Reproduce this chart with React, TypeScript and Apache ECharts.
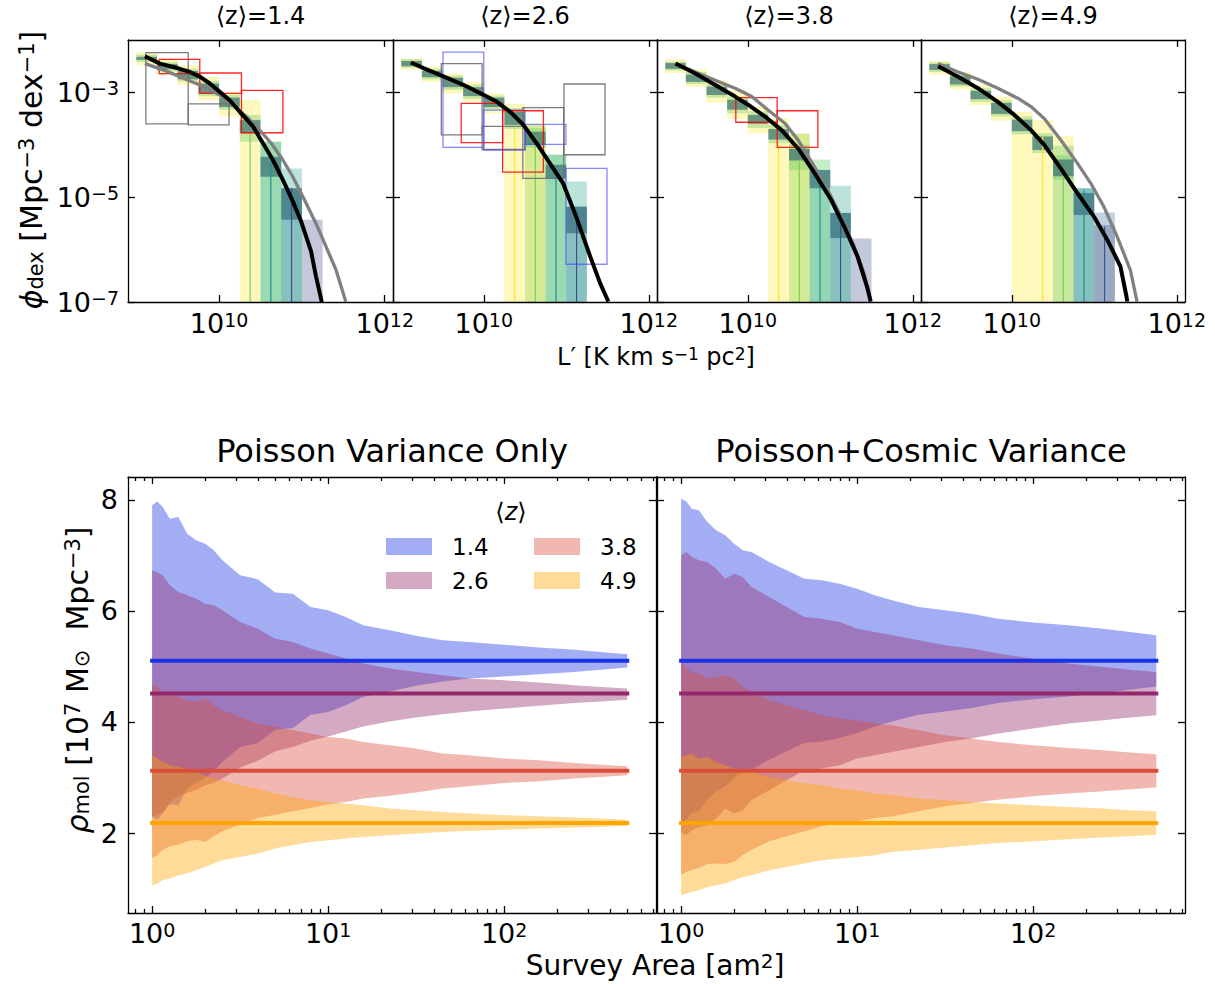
import React, { useEffect, useRef } from 'react';
import * as echarts from 'echarts';

const FONT = 'DejaVu Sans';

// ================= TOP ROW (all values are log10) =================
const TOP_TITLES = ['⟨z⟩=1.4', '⟨z⟩=2.6', '⟨z⟩=3.8', '⟨z⟩=4.9'];
const TOP_X_RANGE = [8.9, 12.1];
const TOP_Y_RANGE = [-7, -2];
const TOP_X_TICKS = [10, 12];
const TOP_Y_TICKS = [-3, -5, -7];

// boxes: [logL lo, logL hi, logPhi lo, logPhi hi, colour index]
const P1_BOXES = [
  [9.0, 9.25, -2.48, -2.23, 0], [9.0, 9.25, -2.42, -2.28, 1], [9.0, 9.25, -2.38, -2.32, 6],
  [9.25, 9.5, -2.67, -2.35, 0], [9.25, 9.5, -2.6, -2.42, 1], [9.25, 9.5, -2.56, -2.46, 6],
  [9.5, 9.75, -2.86, -2.48, 0], [9.5, 9.75, -2.79, -2.55, 1], [9.5, 9.75, -2.75, -2.59, 6],
  [9.75, 10, -3.15, -2.7, 0], [9.75, 10, -3.07, -2.78, 1], [9.75, 10, -3.02, -2.83, 6],
  [10, 10.25, -3.46, -2.99, 0], [10, 10.25, -3.33, -3.05, 1], [10, 10.25, -3.28, -3.1, 6],
  [10.25, 10.5, -7, -3.15, 0], [10.25, 10.5, -3.94, -3.43, 1], [10.25, 10.5, -3.78, -3.53, 6],
  [10.5, 10.75, -7, -3.94, 2], [10.5, 10.75, -7, -3.94, 1], [10.5, 10.75, -4.61, -4.23, 6],
  [10.75, 11, -7, -4.45, 2], [10.75, 11, -7, -4.83, 3], [10.75, 11, -5.43, -4.83, 6],
  [11, 11.25, -7, -5.43, 5],
];
const P2_BOXES = [
  [9.0, 9.25, -2.57, -2.35, 0], [9.0, 9.25, -2.53, -2.37, 1], [9.0, 9.25, -2.5, -2.4, 6],
  [9.25, 9.5, -2.8, -2.51, 0], [9.25, 9.5, -2.75, -2.55, 1], [9.25, 9.5, -2.71, -2.59, 6],
  [9.5, 9.75, -3.02, -2.64, 0], [9.5, 9.75, -2.95, -2.68, 1], [9.5, 9.75, -2.9, -2.72, 6],
  [9.75, 10, -3.18, -2.8, 0], [9.75, 10, -3.12, -2.85, 1], [9.75, 10, -3.07, -2.9, 6],
  [10, 10.25, -3.4, -3.02, 0], [10, 10.25, -3.33, -3.06, 1], [10, 10.25, -3.28, -3.1, 6],
  [10.25, 10.5, -7, -3.22, 0], [10.25, 10.5, -3.7, -3.3, 1], [10.25, 10.5, -3.62, -3.37, 6],
  [10.5, 10.75, -7, -3.62, 1], [10.5, 10.75, -7, -3.62, 0], [10.5, 10.75, -4.05, -3.68, 1], [10.5, 10.75, -4.0, -3.75, 6],
  [10.75, 11, -7, -4.19, 2], [10.75, 11, -7, -4.19, 1], [10.75, 11, -4.64, -4.38, 6],
  [11, 11.25, -7, -4.7, 2], [11, 11.25, -7, -5.18, 3], [11, 11.25, -5.69, -5.18, 6],
];
const P3_BOXES = [
  [9.0, 9.25, -2.63, -2.37, 0], [9.0, 9.25, -2.58, -2.41, 1], [9.0, 9.25, -2.55, -2.44, 6],
  [9.25, 9.5, -2.89, -2.56, 0], [9.25, 9.5, -2.84, -2.61, 1], [9.25, 9.5, -2.8, -2.66, 6],
  [9.5, 9.75, -3.2, -2.77, 0], [9.5, 9.75, -3.1, -2.84, 1], [9.5, 9.75, -3.05, -2.89, 6],
  [9.75, 10, -3.51, -2.96, 0], [9.75, 10, -3.4, -3.08, 1], [9.75, 10, -3.33, -3.14, 6],
  [10, 10.25, -3.78, -3.27, 0], [10, 10.25, -3.68, -3.36, 1], [10, 10.25, -3.6, -3.43, 6],
  [10.25, 10.5, -7, -3.5, 0], [10.25, 10.5, -3.97, -3.62, 1], [10.25, 10.5, -3.9, -3.7, 6],
  [10.5, 10.75, -7, -3.79, 1], [10.5, 10.75, -7, -3.79, 0], [10.5, 10.75, -4.48, -4.0, 1], [10.5, 10.75, -4.3, -4.08, 6],
  [10.75, 11, -7, -4.28, 1], [10.75, 11, -7, -4.48, 2], [10.75, 11, -4.83, -4.48, 6],
  [11, 11.25, -7, -4.78, 2], [11, 11.25, -7, -5.3, 3], [11, 11.25, -5.78, -5.3, 6],
  [11.25, 11.5, -7, -5.79, 5],
];
const P4_BOXES = [
  [9.0, 9.25, -2.66, -2.4, 0], [9.0, 9.25, -2.61, -2.43, 1], [9.0, 9.25, -2.57, -2.46, 6],
  [9.25, 9.5, -2.94, -2.61, 0], [9.25, 9.5, -2.89, -2.65, 1], [9.25, 9.5, -2.85, -2.69, 6],
  [9.5, 9.75, -3.24, -2.86, 0], [9.5, 9.75, -3.18, -2.92, 1], [9.5, 9.75, -3.13, -2.97, 6],
  [9.75, 10, -3.54, -3.08, 0], [9.75, 10, -3.46, -3.15, 1], [9.75, 10, -3.41, -3.2, 6],
  [10, 10.25, -7, -3.37, 0], [10, 10.25, -3.8, -3.46, 1], [10, 10.25, -3.74, -3.52, 6],
  [10.25, 10.5, -7, -3.53, 0], [10.25, 10.5, -4.16, -3.78, 1], [10.25, 10.5, -4.1, -3.84, 6],
  [10.5, 10.75, -7, -3.83, 0], [10.5, 10.75, -7, -4.02, 1], [10.5, 10.75, -4.67, -4.2, 1], [10.5, 10.75, -4.6, -4.28, 6],
  [10.75, 11, -7, -4.83, 2], [10.75, 11, -7, -4.83, 3], [10.75, 11, -5.34, -4.92, 6],
  [11, 11.25, -7, -5.29, 4], [11, 11.25, -7, -5.53, 5],
];

// vertical median lines: [logL, logPhi top, colour index]
const P1_VLINES = [[10.375, -3.78, 1], [10.625, -4.32, 2], [10.875, -4.83, 3]];
const P2_VLINES = [[10.375, -3.69, 0], [10.625, -4.0, 1], [10.875, -4.48, 2], [11.125, -5.37, 3]];
const P3_VLINES = [[10.375, -3.97, 0], [10.625, -4.29, 1], [10.875, -4.54, 2], [11.125, -5.5, 3]];
const P4_VLINES = [[10.375, -3.84, 0], [10.625, -4.48, 1], [10.875, -4.86, 2], [11.125, -5.56, 3]];

// literature measurements (open boxes): [logL lo, logL hi, logPhi lo, logPhi hi, colour index]
const P1_RECTS = [
  [9.116, 9.627, -3.6, -2.24, 1], [9.627, 10.12, -3.62, -3.22, 1],
  [9.277, 9.767, -2.64, -2.37, 0], [9.767, 10.27, -3.02, -2.63, 0], [10.27, 10.77, -3.77, -2.96, 0],
];
const P2_RECTS = [
  [9.506, 10.0, -4.05, -2.23, 2], [9.486, 9.98, -3.81, -2.45, 1], [9.727, 10.229, -3.96, -3.21, 0],
  [9.98, 10.5, -4.09, -3.65, 1], [10.0, 10.5, -4.1, -3.34, 2], [10.229, 10.723, -4.52, -3.35, 0],
  [10.474, 10.97, -4.64, -3.29, 1], [10.5, 10.996, -3.99, -3.61, 2], [10.972, 11.47, -4.19, -2.84, 1],
  [10.996, 11.494, -6.28, -4.45, 2],
];
const P3_RECTS = [[9.855, 10.357, -3.57, -3.1, 0], [10.357, 10.85, -4.05, -3.35, 0]];
const P4_RECTS: number[][] = [];

// model curves
const P1_BLACK_X = [9.104, 9.285, 9.506, 9.647, 9.767, 9.888, 10.008, 10.129, 10.249, 10.41, 10.53, 10.65, 10.77, 10.89, 10.99, 11.11, 11.17, 11.24];
const P1_BLACK_Y = [-2.31, -2.45, -2.54, -2.61, -2.7, -2.83, -2.99, -3.15, -3.37, -3.65, -3.97, -4.29, -4.67, -5.08, -5.46, -6.03, -6.51, -7.0];
const P1_GRAY_X = [9.104, 9.325, 9.526, 9.767, 10.008, 10.169, 10.33, 10.49, 10.63, 10.77, 10.89, 11.03, 11.17, 11.29, 11.41, 11.51, 11.53];
const P1_GRAY_Y = [-2.45, -2.57, -2.7, -2.86, -3.05, -3.24, -3.46, -3.72, -3.97, -4.29, -4.61, -5.05, -5.5, -5.94, -6.38, -6.89, -6.99];
const P2_BLACK_X = [9.116, 9.277, 9.518, 9.759, 10.0, 10.16, 10.32, 10.48, 10.64, 10.8, 10.96, 11.12, 11.29, 11.41, 11.51];
const P2_BLACK_Y = [-2.43, -2.54, -2.7, -2.86, -3.05, -3.18, -3.37, -3.62, -3.97, -4.35, -4.73, -5.37, -6.13, -6.64, -6.99];
const P3_BLACK_X = [9.124, 9.365, 9.606, 9.847, 10.008, 10.209, 10.41, 10.61, 10.81, 11.01, 11.17, 11.33, 11.45, 11.49];
const P3_BLACK_Y = [-2.45, -2.64, -2.86, -3.08, -3.24, -3.46, -3.72, -4.07, -4.54, -5.05, -5.56, -6.13, -6.73, -6.99];
const P3_GRAY_X = [9.124, 9.365, 9.606, 9.847, 10.048, 10.249, 10.45, 10.61, 10.81, 10.97, 11.13, 11.29, 11.41, 11.49];
const P3_GRAY_Y = [-2.45, -2.61, -2.77, -2.92, -3.08, -3.34, -3.59, -3.91, -4.42, -4.86, -5.37, -5.94, -6.45, -6.99];
const P4_BLACK_X = [9.108, 9.349, 9.59, 9.831, 10.032, 10.233, 10.394, 10.594, 10.795, 10.996, 11.157, 11.317, 11.39, 11.4];
const P4_BLACK_Y = [-2.5, -2.7, -2.92, -3.18, -3.43, -3.72, -4.0, -4.45, -4.92, -5.37, -5.81, -6.32, -6.89, -6.99];
const P4_GRAY_X = [9.108, 9.349, 9.59, 9.831, 10.072, 10.233, 10.394, 10.594, 10.795, 10.956, 11.116, 11.277, 11.438, 11.518];
const P4_GRAY_Y = [-2.45, -2.61, -2.75, -2.92, -3.11, -3.27, -3.5, -3.91, -4.35, -4.73, -5.18, -5.75, -6.39, -6.99];

// ================= BOTTOM ROW =================
const AREA = [1, 1.07, 1.15, 1.26, 1.41, 1.58, 1.78, 2.0, 2.24, 2.51, 3.16, 3.98, 5.01, 6.31, 7.94, 10, 12.6, 15.8, 22.4, 31.6, 44.7, 63.1, 100, 158, 251, 355, 501];
const Z_LABELS = ['1.4', '2.6', '3.8', '4.9'];
const RHO_MEAN = [5.1, 4.51, 3.12, 2.18];
const AREA_RANGE = [-0.137, 2.863]; // log10
const RHO_RANGE = [0.56, 8.41];
const AREA_MAJOR = [1, 10, 100];
const AREA_MINOR = [0.8, 0.9, 2, 3, 4, 5, 6, 7, 8, 9, 20, 30, 40, 50, 60, 70, 80, 90, 200, 300, 400, 500, 600, 700];
const RHO_TICKS = [2, 4, 6, 8];

const POI_UP_14 = [7.9, 7.97, 7.87, 7.66, 7.69, 7.39, 7.27, 7.21, 7.09, 6.91, 6.64, 6.57, 6.33, 6.31, 6.07, 6.01, 5.89, 5.74, 5.65, 5.55, 5.47, 5.44, 5.39, 5.34, 5.3, 5.26, 5.22];
const POI_LO_14 = [2.3, 2.24, 2.36, 2.52, 2.5, 2.8, 2.92, 2.98, 3.12, 3.28, 3.55, 3.62, 3.86, 3.89, 4.13, 4.18, 4.3, 4.45, 4.55, 4.65, 4.73, 4.78, 4.82, 4.86, 4.9, 4.94, 4.98];
const POI_UP_26 = [6.73, 6.7, 6.64, 6.46, 6.34, 6.28, 6.22, 6.13, 6.1, 6.01, 5.8, 5.68, 5.5, 5.44, 5.32, 5.23, 5.14, 5.05, 4.96, 4.9, 4.84, 4.78, 4.75, 4.71, 4.66, 4.63, 4.6];
const POI_LO_26 = [2.29, 2.32, 2.38, 2.56, 2.66, 2.72, 2.78, 2.86, 2.9, 2.98, 3.18, 3.3, 3.47, 3.55, 3.66, 3.74, 3.83, 3.92, 4.01, 4.08, 4.14, 4.19, 4.24, 4.29, 4.34, 4.37, 4.4];
const POI_UP_38 = [4.66, 4.63, 4.54, 4.48, 4.45, 4.39, 4.36, 4.42, 4.3, 4.21, 4.09, 3.97, 3.91, 3.85, 3.79, 3.73, 3.7, 3.64, 3.58, 3.52, 3.43, 3.4, 3.34, 3.31, 3.26, 3.23, 3.2];
const POI_LO_38 = [1.55, 1.6, 1.7, 1.76, 1.79, 1.85, 1.88, 1.84, 1.94, 2.03, 2.15, 2.27, 2.33, 2.39, 2.45, 2.52, 2.56, 2.62, 2.67, 2.73, 2.8, 2.84, 2.9, 2.93, 2.98, 3.01, 3.04];
const POI_UP_49 = [3.4, 3.34, 3.28, 3.22, 3.19, 3.16, 3.1, 3.04, 2.98, 2.95, 2.86, 2.8, 2.71, 2.65, 2.59, 2.56, 2.53, 2.5, 2.44, 2.41, 2.38, 2.35, 2.32, 2.3, 2.28, 2.26, 2.24];
const POI_LO_49 = [1.06, 1.09, 1.15, 1.18, 1.24, 1.27, 1.33, 1.39, 1.45, 1.51, 1.57, 1.63, 1.72, 1.78, 1.84, 1.87, 1.9, 1.93, 1.96, 1.99, 2.02, 2.04, 2.06, 2.08, 2.1, 2.11, 2.13];

const COS_UP_14 = [8.02, 7.97, 7.84, 7.81, 7.6, 7.45, 7.36, 7.21, 7.09, 7.06, 6.88, 6.73, 6.58, 6.55, 6.49, 6.4, 6.28, 6.19, 6.07, 6.01, 5.95, 5.86, 5.79, 5.74, 5.68, 5.62, 5.56];
const COS_LO_14 = [2.18, 2.23, 2.36, 2.39, 2.6, 2.75, 2.84, 2.99, 3.11, 3.14, 3.32, 3.47, 3.62, 3.65, 3.71, 3.8, 3.92, 4.01, 4.13, 4.19, 4.25, 4.34, 4.41, 4.46, 4.52, 4.58, 4.64];
const COS_UP_26 = [7.0, 7.06, 6.97, 6.91, 6.88, 6.76, 6.58, 6.67, 6.61, 6.43, 6.25, 6.07, 5.89, 5.86, 5.8, 5.68, 5.62, 5.56, 5.47, 5.38, 5.32, 5.23, 5.14, 5.05, 4.99, 4.94, 4.9];
const COS_LO_26 = [2.02, 1.96, 2.05, 2.11, 2.14, 2.26, 2.44, 2.35, 2.41, 2.59, 2.77, 2.95, 3.13, 3.16, 3.22, 3.34, 3.4, 3.46, 3.55, 3.64, 3.7, 3.79, 3.88, 3.97, 4.03, 4.08, 4.12];
const COS_UP_38 = [5.08, 4.96, 4.9, 4.87, 4.78, 4.81, 4.84, 4.78, 4.63, 4.54, 4.39, 4.3, 4.21, 4.12, 4.06, 4.03, 3.97, 3.94, 3.85, 3.76, 3.7, 3.64, 3.58, 3.53, 3.49, 3.45, 3.42];
const COS_LO_38 = [1.25, 1.3, 1.34, 1.37, 1.44, 1.45, 1.44, 1.48, 1.61, 1.7, 1.85, 1.94, 2.03, 2.12, 2.18, 2.21, 2.27, 2.3, 2.39, 2.48, 2.54, 2.6, 2.66, 2.71, 2.75, 2.79, 2.82];
const COS_UP_49 = [3.37, 3.4, 3.43, 3.34, 3.37, 3.28, 3.22, 3.16, 3.13, 3.1, 3.01, 2.95, 2.89, 2.86, 2.8, 2.77, 2.71, 2.68, 2.62, 2.59, 2.56, 2.53, 2.5, 2.47, 2.44, 2.41, 2.39];
const COS_LO_49 = [0.88, 0.91, 0.94, 0.97, 1.03, 1.06, 1.09, 1.15, 1.21, 1.24, 1.33, 1.39, 1.45, 1.51, 1.54, 1.57, 1.6, 1.66, 1.7, 1.74, 1.78, 1.82, 1.85, 1.89, 1.92, 1.94, 1.97];

// ================= styles =================
const BOX_FILL = ['rgba(253,231,37,0.3)', 'rgba(94,201,98,0.35)', 'rgba(31,161,135,0.3)', 'rgba(38,130,142,0.35)', 'rgba(49,104,142,0.3)', 'rgba(62,73,137,0.3)', 'rgba(40,95,110,0.6)'];
const VLINE_COL = ['#fde725', '#7ad151', '#21918c', '#3b528b'];
const RECT_COL = ['rgba(255,0,0,0.85)', 'rgba(110,110,110,0.9)', 'rgba(70,70,255,0.65)'];
const BAND_RGB = ['25,50,228', '147,40,107', '217,78,58', '255,165,0'];

const TOP_LEFT = [128, 393, 657, 921];
const TOP_W = [265, 264, 264, 264];

const p10 = (v: number) => Math.pow(10, v);
const supText = (e: number) => (e < 0 ? '−' + String(-e) : String(e));
const logLabel = (v: number) => `{b|10}{s|${supText(Math.round(Math.log10(v)))}}`;
const TICK_RICH = {
  b: { fontFamily: FONT, fontSize: 27, lineHeight: 27, color: '#000', verticalAlign: 'middle' },
  s: { fontFamily: FONT, fontSize: 19, lineHeight: 11, color: '#000', verticalAlign: 'top' },
};
const LINE_BLACK = { color: '#000', width: 1.3 };

function mkAxis(kind: string, gi: number, min: number, max: number, position: string, tickVals: number[], tickLen: number, showLine: boolean, labelVals: number[] | null, margin: number, fmt: any) {
  const a: any = {
    type: kind, gridIndex: gi, min, max, position,
    axisLine: { show: showLine, onZero: false, lineStyle: LINE_BLACK },
    axisTick: { show: true, inside: true, length: tickLen, customValues: tickVals, lineStyle: LINE_BLACK },
    axisLabel: labelVals
      ? { show: true, customValues: labelVals, formatter: fmt, rich: TICK_RICH, margin, color: '#000', fontFamily: FONT, fontSize: 27 }
      : { show: false },
    splitLine: { show: false }, minorTick: { show: false }, minorSplitLine: { show: false }, splitArea: { show: false },
    axisPointer: { show: false }, silent: true, z: 10,
  };
  if (kind === 'log') a.logBase = 10;
  return a;
}

function buildOption() {
  const grid: any[] = [];
  const xAxis: any[] = [];
  const yAxis: any[] = [];
  const series: any[] = [];

  TOP_LEFT.forEach((left, i) => grid.push({ left, top: 40, width: TOP_W[i], height: 262, outerBoundsMode: 'none', containLabel: false }));
  grid.push({ left: 128, top: 477, width: 528, height: 436, outerBoundsMode: 'none', containLabel: false });
  grid.push({ left: 657, top: 477, width: 528, height: 436, outerBoundsMode: 'none', containLabel: false });

  const tx0 = p10(TOP_X_RANGE[0]), tx1 = p10(TOP_X_RANGE[1]);
  const ty0 = p10(TOP_Y_RANGE[0]), ty1 = p10(TOP_Y_RANGE[1]);
  const xTickVals = TOP_X_TICKS.map(p10), yTickVals = TOP_Y_TICKS.map(p10);
  for (let i = 0; i < 4; i++) xAxis[i] = mkAxis('log', i, tx0, tx1, 'bottom', xTickVals, 7, true, xTickVals, 8, logLabel);
  for (let i = 0; i < 4; i++) xAxis[4 + i] = mkAxis('log', i, tx0, tx1, 'top', xTickVals, 7, true, null, 0, null);
  for (let i = 0; i < 4; i++) yAxis[i] = mkAxis('log', i, ty0, ty1, 'left', yTickVals, 7, true, i === 0 ? yTickVals : null, 9, logLabel);
  for (let i = 0; i < 4; i++) yAxis[4 + i] = mkAxis('log', i, ty0, ty1, 'right', yTickVals, 7, true, null, 0, null);

  const ax0 = p10(AREA_RANGE[0]), ax1 = p10(AREA_RANGE[1]);
  for (let j = 0; j < 2; j++) {
    const gi = 4 + j;
    xAxis[8 + j] = mkAxis('log', gi, ax0, ax1, 'bottom', AREA_MAJOR, 7, true, AREA_MAJOR, 7, logLabel);
    xAxis[10 + j] = mkAxis('log', gi, ax0, ax1, 'bottom', AREA_MINOR, 4, false, null, 0, null);
    xAxis[12 + j] = mkAxis('log', gi, ax0, ax1, 'top', AREA_MAJOR, 7, true, null, 0, null);
    xAxis[14 + j] = mkAxis('log', gi, ax0, ax1, 'top', AREA_MINOR, 4, false, null, 0, null);
    yAxis[8 + j] = mkAxis('value', gi, RHO_RANGE[0], RHO_RANGE[1], 'left', RHO_TICKS, 7, true, j === 0 ? RHO_TICKS : null, 10, (v: number) => `{b|${v}}`);
    yAxis[10 + j] = mkAxis('value', gi, RHO_RANGE[0], RHO_RANGE[1], 'right', RHO_TICKS, 7, true, null, 0, null);
  }

  // ---- top panels ----
  const panels = [
    { boxes: P1_BOXES, vl: P1_VLINES, rects: P1_RECTS, bx: P1_BLACK_X, by: P1_BLACK_Y, gx: P1_GRAY_X, gy: P1_GRAY_Y },
    { boxes: P2_BOXES, vl: P2_VLINES, rects: P2_RECTS, bx: P2_BLACK_X, by: P2_BLACK_Y, gx: null, gy: null },
    { boxes: P3_BOXES, vl: P3_VLINES, rects: P3_RECTS, bx: P3_BLACK_X, by: P3_BLACK_Y, gx: P3_GRAY_X, gy: P3_GRAY_Y },
    { boxes: P4_BOXES, vl: P4_VLINES, rects: P4_RECTS, bx: P4_BLACK_X, by: P4_BLACK_Y, gx: P4_GRAY_X, gy: P4_GRAY_Y },
  ];
  panels.forEach((p, i) => {
    series.push({
      type: 'custom', xAxisIndex: i, yAxisIndex: i, clip: true, z: 2, silent: true,
      data: p.boxes.map((b) => [p10(b[0]), p10(b[1]), p10(b[2]), p10(b[3]), b[4]]),
      encode: { x: [0, 1], y: [2, 3] },
      renderItem: (params: any, api: any) => {
        const a = api.coord([api.value(0), api.value(3)]);
        const b = api.coord([api.value(1), api.value(2)]);
        return { type: 'rect', shape: { x: a[0], y: a[1], width: b[0] - a[0], height: b[1] - a[1] }, style: { fill: BOX_FILL[api.value(4)] } };
      },
    });
    series.push({
      type: 'custom', xAxisIndex: i, yAxisIndex: i, clip: true, z: 3, silent: true,
      data: p.vl.map((v) => [p10(v[0]), p10(v[1]), v[2]]),
      encode: { x: 0, y: 1 },
      renderItem: (params: any, api: any) => {
        const a = api.coord([api.value(0), api.value(1)]);
        const b = api.coord([api.value(0), ty0]);
        return { type: 'line', shape: { x1: a[0], y1: a[1], x2: b[0], y2: b[1] }, style: { stroke: VLINE_COL[api.value(2)], lineWidth: 1.2 } };
      },
    });
    if (p.rects.length) {
      series.push({
        type: 'custom', xAxisIndex: i, yAxisIndex: i, clip: true, z: 4, silent: true,
        data: p.rects.map((b) => [p10(b[0]), p10(b[1]), p10(b[2]), p10(b[3]), b[4]]),
        encode: { x: [0, 1], y: [2, 3] },
        renderItem: (params: any, api: any) => {
          const a = api.coord([api.value(0), api.value(3)]);
          const b = api.coord([api.value(1), api.value(2)]);
          return { type: 'rect', shape: { x: a[0], y: a[1], width: b[0] - a[0], height: b[1] - a[1] }, style: { fill: 'none', stroke: RECT_COL[api.value(4)], lineWidth: 1.3 } };
        },
      });
    }
    if (p.gx && p.gy) {
      const gy = p.gy;
      series.push({
        type: 'line', xAxisIndex: i, yAxisIndex: i, z: 5, silent: true, symbol: 'none', clip: true,
        data: p.gx.map((x, k) => [p10(x), p10(gy[k])]),
        lineStyle: { color: '#808080', width: 3.3 },
      });
    }
    series.push({
      type: 'line', xAxisIndex: i, yAxisIndex: i, z: 6, silent: true, symbol: 'none', clip: true,
      data: p.bx.map((x, k) => [p10(x), p10(p.by[k])]),
      lineStyle: { color: '#000', width: 4 },
    });
  });

  // ---- bottom panels ----
  const bandSets = [
    [[POI_LO_14, POI_UP_14], [POI_LO_26, POI_UP_26], [POI_LO_38, POI_UP_38], [POI_LO_49, POI_UP_49]],
    [[COS_LO_14, COS_UP_14], [COS_LO_26, COS_UP_26], [COS_LO_38, COS_UP_38], [COS_LO_49, COS_UP_49]],
  ];
  bandSets.forEach((bands, j) => {
    bands.forEach(([lo, hi], k) => {
      series.push({
        type: 'custom', xAxisIndex: 8 + j, yAxisIndex: 8 + j, clip: true, z: 2, silent: true,
        data: AREA.map((a, n) => [a, lo[n], hi[n]]),
        encode: { x: 0, y: [1, 2] },
        renderItem: (params: any, api: any) => {
          if (params.dataIndex !== 0) return null;
          const pts: number[][] = [];
          for (let n = 0; n < AREA.length; n++) pts.push(api.coord([AREA[n], hi[n]]));
          for (let n = AREA.length - 1; n >= 0; n--) pts.push(api.coord([AREA[n], lo[n]]));
          return { type: 'polygon', shape: { points: pts }, style: { fill: `rgba(${BAND_RGB[k]},0.4)` } };
        },
      });
    });
    RHO_MEAN.forEach((m, k) => {
      series.push({
        type: 'line', xAxisIndex: 8 + j, yAxisIndex: 8 + j, z: 3, silent: true, symbol: 'none',
        data: [[AREA[0], m], [AREA[AREA.length - 1], m]],
        lineStyle: { color: `rgb(${BAND_RGB[k]})`, width: 4, cap: 'square' },
      });
    });
  });

  // ---- texts ----
  const base = (size: number, extra: any = {}) => ({ fontFamily: FONT, fontSize: size, fill: '#000', color: '#000', ...extra });
  const mkText = (x: number, y: number, text: string, size: number, rich?: any, rotation = 0) => ({
    type: 'text', x, y, rotation, z: 100, silent: true,
    style: { text, rich, fontFamily: FONT, fontSize: size, fill: '#000', align: 'center', verticalAlign: 'middle', textAlign: 'center', textVerticalAlign: 'middle' },
  });
  const labRich = (size: number, sub: number, supLH: number, subLH: number) => ({
    a: base(size, { lineHeight: size, verticalAlign: 'middle' }),
    i: base(size, { lineHeight: size, verticalAlign: 'middle', fontStyle: 'italic' }),
    s: base(sub, { lineHeight: supLH, verticalAlign: 'top' }),
    d: base(sub, { lineHeight: subLH, verticalAlign: 'bottom' }),
  });

  const graphic: any[] = [];
  const topCenters = TOP_LEFT.map((l, i) => l + TOP_W[i] / 2);
  TOP_TITLES.forEach((t, i) => graphic.push(mkText(topCenters[i], 15.7, t, 24)));
  graphic.push(mkText(656, 357, '{a|L′ [K km s}{s|−1}{a| pc}{s|2}{a|]}', 24, labRich(24, 17, 10, 10)));
  graphic.push(mkText(31.6, 170, '{i|ϕ}{d|dex}{a| [Mpc}{s|−3}{a| dex}{s|−1}{a|]}', 30, labRich(30, 21, 12, 11), Math.PI / 2));
  graphic.push(mkText(392, 451, 'Poisson Variance Only', 32));
  graphic.push(mkText(921, 451, 'Poisson+Cosmic Variance', 32));
  graphic.push(mkText(655, 965, '{a|Survey Area [am}{s|2}{a|]}', 28, labRich(28, 20, 11, 11)));
  graphic.push(mkText(77, 680, '{i|ρ}{d|mol}{a| [10}{s|7}{a| M}{d|⊙}{a|  Mpc}{s|−3}{a|]}', 30, labRich(30, 21, 12, 11), Math.PI / 2));

  // legend
  graphic.push(mkText(511, 512, '{a|⟨}{i|z}{a|⟩}', 24, labRich(24, 17, 10, 10)));
  const legPos = [[386, 538], [386, 572], [534, 538], [534, 572]];
  Z_LABELS.forEach((lab, k) => {
    const [x, y] = legPos[k];
    graphic.push({ type: 'rect', z: 100, silent: true, shape: { x, y, width: 46, height: 17 }, style: { fill: `rgba(${BAND_RGB[k]},0.4)` } });
    graphic.push({
      type: 'text', x: x + 66, y: y + 8.5, z: 100, silent: true,
      style: { text: lab, fontFamily: FONT, fontSize: 23, fill: '#000', align: 'left', verticalAlign: 'middle', textAlign: 'left', textVerticalAlign: 'middle' },
    });
  });

  return {
    animation: false,
    backgroundColor: '#ffffff',
    textStyle: { fontFamily: FONT, color: '#000' },
    grid, xAxis, yAxis, series, graphic,
  };
}

export default function App() {
  const ref = useRef<HTMLDivElement>(null);
  useEffect(() => {
    if (!ref.current) return;
    const chart = echarts.init(ref.current, null, { renderer: 'svg' });
    chart.setOption(buildOption() as any);
    return () => chart.dispose();
  }, []);
  return <div ref={ref} style={{ position: 'absolute', left: 0, top: 0, width: 1215, height: 984, background: '#fff' }} />;
}
